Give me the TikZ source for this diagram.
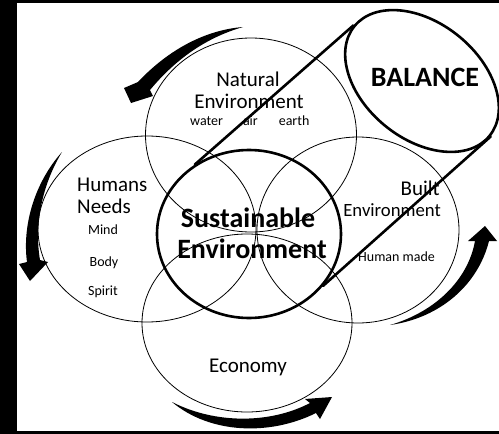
\documentclass[tikz,border=0pt]{standalone}
\usepackage{fontspec}
\setmainfont{Carlito}
\usetikzlibrary{shapes.geometric, calc, positioning}
\tikzset{
  %% -- thin overlapping rings --
  VD/ring/.style={draw=black, line width=0.8pt, ellipse, inner sep=0pt},
  %% -- heavy outline (core ring, balance lens) --
  VD/core/.style={draw=black, line width=2.6pt, ellipse, inner sep=0pt},
  %% -- labels --
  VD/big/.style={font=\fontsize{21}{25}\selectfont, inner sep=0pt, anchor=base},
  VD/small/.style={font=\fontsize{14}{17}\selectfont, inner sep=0pt, anchor=base},
  VD/bold/.style={font=\fontsize{28}{33}\selectfont\bfseries, inner sep=0pt, anchor=base},
  %% -- tangent ties between core and balance --
  VD/tie/.style={line width=2.6pt, line cap=round},
  %% -- curved cycle arrows --
  VD/sweep/.style={fill=black},
}

\begin{document}
\begin{tikzpicture}[x=1pt, y=-1pt]

%% frame
\useasboundingbox (0,0) rectangle (499,434);
\fill[black] (0,0) rectangle (499,434);
\fill[white] (17,3) rectangle (499,431);

%% ━━━━━━━━━━━━━━━━━━━━━━━━━━━━━━━━━━━━━━━━━━━━━━━━━━━━━━━
%%  RINGS
%% ━━━━━━━━━━━━━━━━━━━━━━━━━━━━━━━━━━━━━━━━━━━━━━━━━━━━━━━
\node[VD/ring, minimum width=211pt, minimum height=194pt] (natural) at (251,135) {};
\node[VD/ring, minimum width=218pt, minimum height=186pt] (humans)  at (147,229) {};
\node[VD/ring, minimum width=202pt, minimum height=186pt] (built)   at (358,230) {};
\node[VD/ring, minimum width=210pt, minimum height=178pt] (economy) at (247,323) {};
\node[VD/core, minimum width=184pt, minimum height=168pt] (sustain) at (249,234) {};

%% balance lens and its ties
\node[VD/core, rotate=-39, minimum width=174pt, minimum height=116pt] (balance) at (422,81) {};
\draw[VD/tie] (sustain.128) -- (balance.west);
\draw[VD/tie] (sustain.-35) -- (balance.east);

%% ━━━━━━━━━━━━━━━━━━━━━━━━━━━━━━━━━━━━━━━━━━━━━━━━━━━━━━━
%%  LABELS
%% ━━━━━━━━━━━━━━━━━━━━━━━━━━━━━━━━━━━━━━━━━━━━━━━━━━━━━━━
\node[VD/big] (natT) at (248,86) {Natural};
\node[VD/big, text depth=0pt] (natB) at (249,108) {Environment};
\node[VD/small, anchor=base west] (natS) at (190,125)
  {water\hspace{20pt}air\hspace{21pt}earth};

\node[VD/big, anchor=base west] (humT) at (77,191) {Humans};
\node[VD/big, anchor=base west] (humB) at (77,213) {Needs};
\node[VD/small] (mind)   at (103,234) {Mind};
\node[VD/small] (body)   at (104,266) {Body};
\node[VD/small] (spirit) at (103,295) {Spirit};

\node[VD/bold] (susT) at (248,227) {Sustainable};
\node[VD/bold] (susB) at (252,258) {Environment};

\node[VD/big, anchor=base east, text depth=0pt] (bltT) at (440,195) {Built};
\node[VD/big, anchor=base east, text depth=0pt, font=\fontsize{18.7}{22}\selectfont] (bltB) at (441,216) {Environment};
\node[VD/small, anchor=base west] (bltS) at (358,261) {Human made};

\node[VD/big] (eco) at (248,372) {Economy};
\node[VD/bold] (bal) at (425,86) {BALANCE};

%% ━━━━━━━━━━━━━━━━━━━━━━━━━━━━━━━━━━━━━━━━━━━━━━━━━━━━━━━
%%  CYCLE ARROWS
%% ━━━━━━━━━━━━━━━━━━━━━━━━━━━━━━━━━━━━━━━━━━━━━━━━━━━━━━━
%% top left
\fill[VD/sweep] (243,27) .. controls (205,30) and (168,50) .. (138,82)
  -- (124,88) -- (131,103) -- (153,96) -- (150,90)
  .. controls (175,60) and (205,38) .. (243,27) -- cycle;
%% left
\fill[VD/sweep] (62,152) .. controls (35,182) and (22,225) .. (27,262)
  -- (19,264) -- (30,281) -- (48,262) -- (40,260)
  .. controls (34,225) and (42,185) .. (62,152) -- cycle;
%% bottom
\fill[VD/sweep] (172,402) .. controls (210,434) and (270,436) .. (316,413)
  -- (320,419) -- (332,397) -- (305,399) -- (310,403)
  .. controls (270,424) and (215,424) .. (172,402) -- cycle;
%% right
\fill[VD/sweep] (390,325) .. controls (440,318) and (478,285) .. (489,241)
  -- (497,241) -- (485,226) -- (468,241) -- (475,241)
  .. controls (468,280) and (435,312) .. (390,325) -- cycle;

\end{tikzpicture}
\end{document}
